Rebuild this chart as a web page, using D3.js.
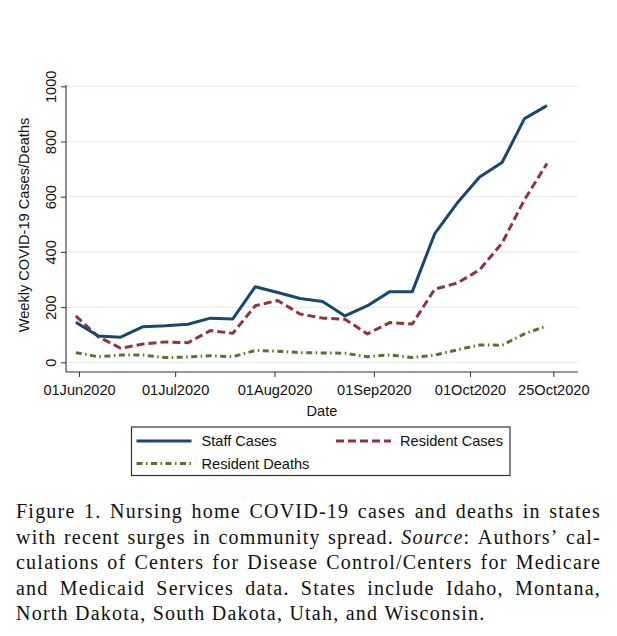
<!DOCTYPE html>
<html>
<head>
<meta charset="utf-8">
<script src="https://cdn.jsdelivr.net/npm/d3@7"></script>
<style>
  html, body { margin: 0; padding: 0; background: #fff; }
  svg { display: block; }
</style>
</head>
<body>
<svg id="chart" width="617" height="636"></svg>
<script>
// ---------------- DATA ----------------
const dates = ["2020-05-31","2020-06-07","2020-06-14","2020-06-21","2020-06-28","2020-07-05",
  "2020-07-12","2020-07-19","2020-07-26","2020-08-02","2020-08-09","2020-08-16","2020-08-23",
  "2020-08-30","2020-09-06","2020-09-13","2020-09-20","2020-09-27","2020-10-04","2020-10-11",
  "2020-10-18","2020-10-25"];
const staffCases    = [145, 95, 91,129,132,138,160,157,274,253,231,220,168,205,256,256,466,577,671,724,883,930];
const residentCases = [168, 93, 51, 66, 74, 71,115,105,205,224,175,160,156,103,144,139,265,287,335,432,589,720];
const residentDeaths= [ 35, 20, 26, 26, 17, 19, 24, 20, 43, 40, 35, 34, 33, 20, 27, 17, 26, 45, 63, 62,103,132];

const seriesNames = ["Staff Cases", "Resident Cases", "Resident Deaths"];
const xTickDates  = ["2020-06-01","2020-07-01","2020-08-01","2020-09-01","2020-10-01","2020-10-27"];
const xTickLabels = ["01Jun2020","01Jul2020","01Aug2020","01Sep2020","01Oct2020","25Oct2020"];
const yTicks      = [0, 200, 400, 600, 800, 1000];
const yTitle = "Weekly COVID-19 Cases/Deaths";
const xTitle = "Date";
const captionLines = [
  "Figure 1. Nursing home COVID-19 cases and deaths in states",
  "with recent surges in community spread. *Source*: Authors’ cal-",
  "culations of Centers for Disease Control/Centers for Medicare",
  "and Medicaid Services data. States include Idaho, Montana,",
  "North Dakota, South Dakota, Utah, and Wisconsin."
];

// ---------------- STYLE / LAYOUT ----------------
const sans = "'Liberation Sans', Arial, sans-serif";
const serif = "'Liberation Serif', 'Times New Roman', serif";
const fs = 14.6;
const colors = ["#1a476f", "#90353b", "#55752f"];
const dashes = [null, "8 4", "6 3.5 1.5 3.5"];
const plotLeft = 66, plotRight = 578, axisBottomY = 372, axisTopY = 85;

const parse = d3.utcParse("%Y-%m-%d");
const svg = d3.select("#chart");

const x = d3.scaleUtc()
  .domain([parse("2020-06-01"), parse("2020-10-01")])
  .range([79, 470]);
const y = d3.scaleLinear().domain([0, 1000]).range([362.3, 86.3]);

// gridlines
svg.append("g").selectAll("line").data(yTicks).join("line")
  .attr("x1", plotLeft + 1).attr("x2", plotRight)
  .attr("y1", d => y(d)).attr("y2", d => y(d))
  .attr("stroke", "#e6eef0").attr("stroke-width", 1.2);

// x axis
const xAxis = svg.append("g").attr("transform", `translate(0,${axisBottomY})`)
  .call(d3.axisBottom(x)
    .tickValues(xTickDates.map(parse))
    .tickFormat((d, i) => xTickLabels[i])
    .tickSize(5).tickPadding(8));
xAxis.select(".domain").remove();
xAxis.selectAll(".tick line").attr("stroke", "#333");
xAxis.selectAll(".tick text").attr("font-family", sans).attr("font-size", fs)
  .attr("fill", "#111").attr("dy", "0").attr("y", 23);
svg.append("line").attr("x1", plotLeft).attr("x2", plotRight)
  .attr("y1", axisBottomY).attr("y2", axisBottomY).attr("stroke", "#333").attr("stroke-width", 1.1);

// y axis
const yAxis = svg.append("g").attr("transform", `translate(${plotLeft},0)`)
  .call(d3.axisLeft(y).tickValues(yTicks).tickFormat(d3.format("d")).tickSize(5));
yAxis.select(".domain").remove();
yAxis.selectAll(".tick line").attr("stroke", "#333");
yAxis.selectAll(".tick text").attr("font-family", sans).attr("font-size", fs)
  .attr("fill", "#111").attr("x", 0).attr("dy", "0")
  .attr("text-anchor", "middle")
  .attr("transform", "translate(-10,0) rotate(-90)");
svg.append("line").attr("x1", plotLeft).attr("x2", plotLeft)
  .attr("y1", axisTopY).attr("y2", axisBottomY).attr("stroke", "#333").attr("stroke-width", 1.1);

// titles
svg.append("text").attr("transform", "translate(28.5,225) rotate(-90)")
  .attr("text-anchor", "middle").attr("font-family", sans).attr("font-size", fs)
  .attr("fill", "#111").text(yTitle);
svg.append("text").attr("x", (plotLeft + plotRight) / 2).attr("y", 416)
  .attr("text-anchor", "middle").attr("font-family", sans).attr("font-size", fs)
  .attr("fill", "#111").text(xTitle);

// lines
const series = [staffCases, residentCases, residentDeaths];
const line = d3.line().x((d, i) => x(parse(dates[i]))).y(d => y(d));
// draw deaths first, then resident cases, then staff on top
[2, 1, 0].forEach(k => {
  svg.append("path").datum(series[k])
    .attr("d", line)
    .attr("fill", "none")
    .attr("stroke", colors[k])
    .attr("stroke-width", 3)
    .attr("stroke-linejoin", "round")
    .attr("stroke-dasharray", dashes[k]);
});

// legend
const lg = svg.append("g");
lg.append("rect").attr("x", 131.5).attr("y", 427).attr("width", 378.5).attr("height", 48.5)
  .attr("fill", "#fff").attr("stroke", "#333").attr("stroke-width", 1.2);
const legendPos = [
  {lx: 136.5, tx: 201.5, cy: 441},
  {lx: 336, tx: 400, cy: 441},
  {lx: 136.5, tx: 201.5, cy: 463.5}
];
legendPos.forEach((p, k) => {
  lg.append("line").attr("x1", p.lx).attr("x2", p.lx + 55).attr("y1", p.cy).attr("y2", p.cy)
    .attr("stroke", colors[k]).attr("stroke-width", 3)
    .attr("stroke-dasharray", dashes[k]);
  lg.append("text").attr("x", p.tx).attr("y", p.cy + 5.3)
    .attr("font-family", sans).attr("font-size", fs).attr("fill", "#111")
    .text(seriesNames[k]);
});

// caption (justified)
const capLeft = 16, capRight = 601, capFs = 20;
const cap = svg.append("g").attr("font-family", serif).attr("font-size", capFs).attr("fill", "#111");

function addWord(g, word, ls) {
  const t = g.append("text").attr("letter-spacing", ls);
  word.split(/(\*[^*]+\*)/).filter(s => s.length).forEach(seg => {
    if (seg.startsWith("*")) t.append("tspan").attr("font-style", "italic").text(seg.slice(1, -1));
    else t.append("tspan").text(seg);
  });
  return t;
}
// determine letter spacing so the final (unjustified) line matches width 469
const probe = addWord(cap, captionLines[4].replace(/\*/g, ""), 0);
const w0 = probe.node().getComputedTextLength();
probe.remove();
const nChars = captionLines[4].length;
const ls = Math.max(0, (469 - w0) / nChars);

captionLines.forEach((ln, i) => {
  const yb = 518 + i * 25.6;
  const words = ln.split(" ");
  const nodes = words.map(w => addWord(cap, w, ls));
  const widths = nodes.map(n => n.node().getComputedTextLength());
  const total = d3.sum(widths);
  const last = i === captionLines.length - 1;
  const gap = last ? capFs * 0.25 + ls : (capRight - capLeft - total) / (words.length - 1);
  let cx = capLeft;
  nodes.forEach((n, j) => {
    n.attr("x", cx).attr("y", yb);
    cx += widths[j] + gap;
  });
});
</script>
</body>
</html>
